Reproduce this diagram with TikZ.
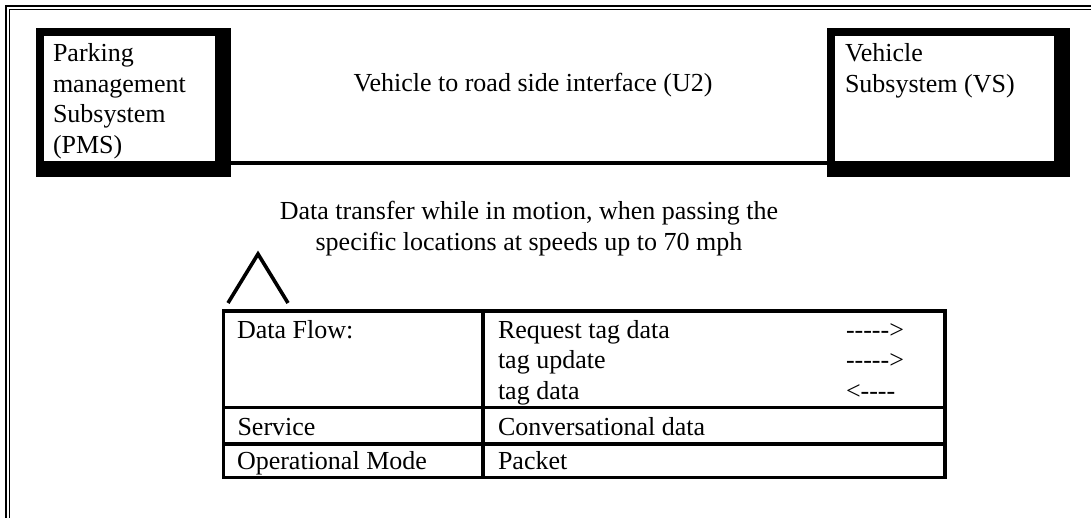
\documentclass[tikz,border=0pt]{standalone}
\usepackage{fontspec}
\setmainfont{Liberation Serif}
\begin{document}
\begin{tikzpicture}[x=0.5pt,y=-0.5pt,
  txt/.style={font=\fontsize{13}{15.25}\selectfont, inner sep=0pt, outer sep=0pt},
  blk/.style={fill=black, inner sep=0pt, outer sep=0pt},
  wht/.style={fill=white, inner sep=0pt, outer sep=0pt},
  cell/.style={draw, line width=1.65pt, inner sep=0pt, outer sep=0pt},
  link/.style={line width=2pt},
  frame/.style={line width=1pt}]
\useasboundingbox (0,0) rectangle (1091,518);
% outer double frame
\draw[frame] (5.7,530) -- (5.7,5.7) -- (1100,5.7);
\draw[line width=0.65pt] (9.7,530) -- (9.7,9.7) -- (1100,9.7);
% PMS box
\node[blk, minimum width=97.5pt, minimum height=74.5pt] (pmsO) at (133.5,102.5) {};
\node[wht, minimum width=85.5pt, minimum height=62.5pt] (pmsI) at (129.5,98.5) {};
\node[txt, align=left, anchor=base west] (pmsT) at (53,153.2) {Parking\\management\\Subsystem\\(PMS)};
% VS box
\node[blk, minimum width=121.65pt, minimum height=74.5pt] (vsO) at (948.35,102.5) {};
\node[wht, minimum width=109.5pt, minimum height=62.5pt] (vsI) at (944.5,98.5) {};
\node[txt, align=left, anchor=base west] (vsT) at (845,92.2) {Vehicle\\Subsystem (VS)};
% interface line
\draw[link] ([yshift=7pt]pmsO.south east) -- ([yshift=7pt]vsO.south west);
\node[txt, anchor=base] (u2) at (533,92) {Vehicle to road side interface (U2)};
\node[txt, align=center, anchor=base] (motion) at (529,250) {Data transfer while in motion, when passing the\\specific locations at speeds up to 70 mph};
% caret
\coordinate (cl) at (228,303);
\coordinate (ct) at (258,254);
\coordinate (cr) at (288,303);
\draw[line width=1.8pt] (cl) -- (ct) -- (cr);
% table
\node[cell, minimum width=129.75pt, minimum height=48.35pt] (r1c1) at (353.25,359.35) {};
\node[cell, minimum width=231pt, minimum height=48.35pt] (r1c2) at (714,359.35) {};
\node[cell, minimum width=129.75pt, minimum height=18.15pt] (r2c1) at (353.25,425.85) {};
\node[cell, minimum width=231pt, minimum height=18.15pt] (r2c2) at (714,425.85) {};
\node[cell, minimum width=129.75pt, minimum height=16.75pt] (r3c1) at (353.25,460.75) {};
\node[cell, minimum width=231pt, minimum height=16.75pt] (r3c2) at (714,460.75) {};
\node[txt, anchor=base west] (df) at (237,338) {Data Flow:};
\node[txt, align=left, anchor=base west] (flows) at (498,399) {Request tag data\\tag update\\tag data};
\node[txt, align=left, anchor=base west] (dirs) at (846,399) {-{}-{}-{}-{}->\\-{}-{}-{}-{}->\\<-{}-{}-{}-};
\node[txt, anchor=base west] (svc) at (237.5,435) {Service};
\node[txt, anchor=base west] (conv) at (498,435) {Conversational data};
\node[txt, anchor=base west] (opm) at (237,469) {Operational Mode};
\node[txt, anchor=base west] (pkt) at (498,469) {Packet};
\end{tikzpicture}
\end{document}
